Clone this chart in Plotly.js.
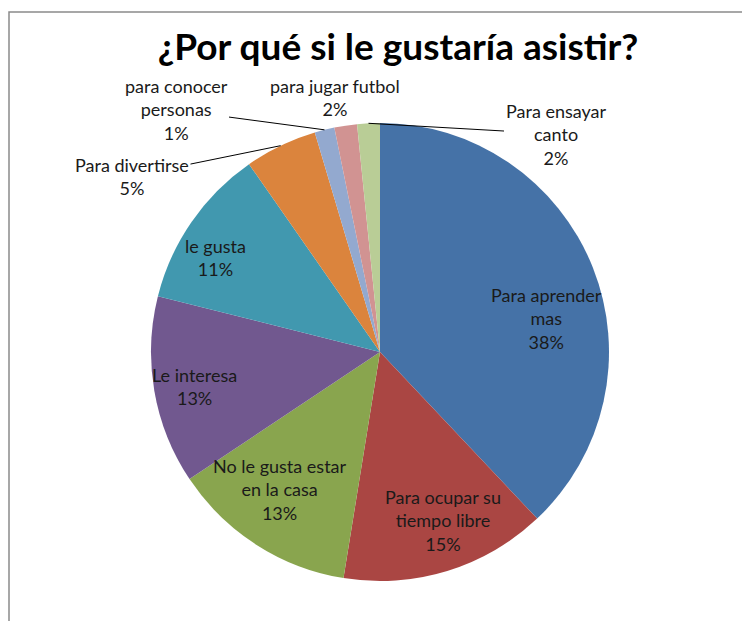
<!DOCTYPE html>
<html><head><meta charset="utf-8">
<script src="https://cdn.plot.ly/plotly-3.0.1.min.js"></script>
<style>html,body{margin:0;padding:0;background:#fff}#chart{width:742px;height:621px}</style>
</head><body><div id="chart"></div>
<script>
// ---- data ----
const categories = ["Para aprender mas", "Para ocupar su tiempo libre", "No le gusta estar en la casa", "Le interesa", "le gusta", "Para divertirse", "para conocer personas", "para jugar futbol", "Para ensayar canto"];
const labelLines = ["Para aprender<br>mas", "Para ocupar su<br>tiempo libre", "No le gusta estar<br>en la casa", "Le interesa", "le gusta", "Para divertirse", "para conocer<br>personas", "para jugar futbol", "Para ensayar<br>canto"];
const values = [38.0, 14.6, 13.1, 13.3, 11.4, 5.1, 1.4, 1.6, 1.6];
const outsideLabel = [false, false, false, false, false, true, true, true, true];
const leaderLine = [false, false, false, false, false, true, true, false, true];

// ---- styling ----
const colors = ["#4572A7", "#AA4643", "#89A54E", "#71588F", "#4198AF", "#DB843D", "#93A9CF", "#D19392", "#B9CD96"];
const W = 742, H = 621;
const cxPx = 380, cyPx = 352, rPx = 229;
const domX = [(cxPx - rPx) / W, (cxPx + rPx) / W];
const domY = [1 - (cyPx + rPx) / H, 1 - (cyPx - rPx) / H];
// label block centres (pixels), one per slice
const labelPos = [[546, 318], [443, 520], [280, 490], [194, 386], [215, 257], [132, 176], [176, 110], [335, 97], [556, 134]];
const fontFam = "Lato, 'Open Sans', sans-serif";
const fontSize = 18;
const textColor = "#1a1a1a";

const total = values.reduce((a, b) => a + b, 0);

const annotations = [];
let cum = 0;
values.forEach((v, i) => {
  const mid = (cum + v / 2) / total * 2 * Math.PI;
  cum += v;
  const pct = Math.round(v / total * 100);
  const pos = labelPos[i];
  const ann = {
    xref: "paper", yref: "paper",
    text: labelLines[i] + "<br>" + pct + "%",
    xanchor: "center", yanchor: "middle",
    font: {family: fontFam, size: fontSize, color: textColor},
    align: "center"
  };
  if (leaderLine[i]) {
    const px = cxPx + rPx * Math.sin(mid);
    const py = cyPx - rPx * Math.cos(mid);
    Object.assign(ann, {x: px / W, y: 1 - py / H, showarrow: true, arrowhead: 0, arrowwidth: 1,
      arrowcolor: "#000", standoff: 0, ax: pos[0] - px, ay: pos[1] - py});
  } else {
    Object.assign(ann, {x: pos[0] / W, y: 1 - pos[1] / H, showarrow: false});
  }
  annotations.push(ann);
});

const trace = {
  type: "pie",
  labels: categories,
  values: values,
  textinfo: "none",
  sort: false,
  direction: "clockwise",
  rotation: 0,
  marker: {colors: colors, line: {width: 0}},
  domain: {x: domX, y: domY},
  hoverinfo: "label+percent",
  showlegend: false
};

const layout = {
  width: W, height: H,
  margin: {l: 0, r: 0, t: 0, b: 0},
  paper_bgcolor: "#fff",
  title: {text: "<b>¿Por qué si le gustaría asistir?</b>", x: 398 / W, xanchor: "center", y: 1 - 47 / H, yanchor: "middle",
          font: {family: fontFam, size: 37, color: "#000"}},
  annotations: annotations,
  shapes: [{type: "rect", xref: "paper", yref: "paper", x0: 9 / W, x1: 1.05, y0: -0.05, y1: 1 - 12 / H,
            line: {color: "#8a8a8a", width: 1.5}, fillcolor: "rgba(0,0,0,0)"}]
};

Plotly.newPlot("chart", [trace], layout, {displayModeBar: false, staticPlot: true});
</script>
</body></html>
